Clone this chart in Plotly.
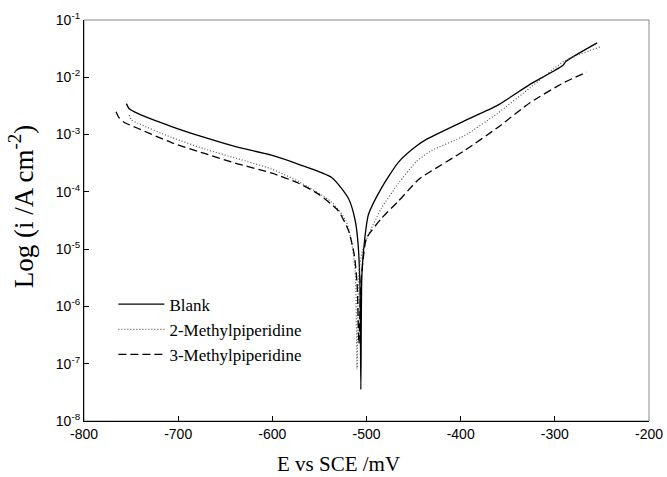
import plotly.graph_objects as go

# ---- data ----
blank_E = [-755, -752, -743, -707, -672, -637, -601, -572, -537, -519, -512, -509, -507,
           -506, -505, -503, -498, -484, -466, -447, -436, -396, -361, -326, -292, -288, -255]
blank_logi = [-2.46, -2.55, -2.63, -2.86, -3.05, -3.22, -3.36, -3.52, -3.75, -4.12, -4.50, -4.90, -5.60,
              -7.45, -5.50, -5.00, -4.40, -3.93, -3.48, -3.20, -3.08, -2.76, -2.49, -2.12, -1.80, -1.72, -1.40]

m2_E = [-752, -750, -743, -707, -672, -637, -601, -572, -537, -522, -516, -512,
        -510, -508, -504, -496, -484, -466, -447, -431, -396, -361, -326, -290, -252]
m2_logi = [-2.66, -2.74, -2.80, -3.05, -3.25, -3.42, -3.60, -3.82, -4.18, -4.50, -4.86, -5.40,
           -7.10, -5.40, -5.00, -4.68, -4.28, -3.85, -3.47, -3.28, -3.02, -2.63, -2.18, -1.72, -1.47]

m3_E = [-766, -763, -758, -743, -707, -672, -637, -601, -572, -551, -530, -519, -513, -510,
        -508, -506, -503, -500, -484, -466, -447, -442, -396, -361, -326, -290, -266]
m3_logi = [-2.60, -2.70, -2.78, -2.89, -3.14, -3.33, -3.51, -3.67, -3.85, -4.04, -4.33, -4.68, -5.10, -5.60,
           -6.65, -5.60, -5.10, -4.81, -4.46, -4.16, -3.82, -3.75, -3.28, -2.88, -2.44, -2.09, -1.91]

series_names = ["Blank", "2-Methylpiperidine", "3-Methylpiperidine"]

x_ticks = [-800, -700, -600, -500, -400, -300, -200]
x_ticktext = ["-800", "-700", "-600", "-500", "-400", "-300", "-200"]
y_exps = [-8, -7, -6, -5, -4, -3, -2, -1]

x_title = "E vs SCE /mV"
y_title = "Log (i /A cm<sup>-2</sup>)"

# ---- figure ----
fig = go.Figure()
styles = [
    dict(color="black", width=1.3, dash="solid"),
    dict(color="#555555", width=1.2, dash="1px,2px"),
    dict(color="black", width=1.3, dash="8px,4px"),
]
for k, (E, lg) in enumerate([(blank_E, blank_logi), (m2_E, m2_logi), (m3_E, m3_logi)]):
    fig.add_trace(go.Scatter(
        x=E, y=[10 ** v for v in lg], mode="lines", name=series_names[k],
        line=dict(**styles[k], shape="spline", smoothing=0.6),
        legendgroup=series_names[k],
    ))

fig.update_layout(
    width=667, height=477,
    margin=dict(l=84, r=4, t=20, b=56),
    paper_bgcolor="white", plot_bgcolor="white",
    showlegend=True,
    legend=dict(x=0.052, y=0.335, xanchor="left", yanchor="top", itemwidth=46,
                font=dict(family="Liberation Serif", size=17, color="black"),
                bgcolor="rgba(0,0,0,0)", tracegroupgap=0),
    xaxis=dict(range=[-800, -200], tickvals=x_ticks, ticktext=x_ticktext,
               ticks="inside", ticklen=5, ticklabeloverflow="allow",
               tickcolor="black", showline=True, linecolor="black", linewidth=1.2,
               showgrid=False, zeroline=False,
               tickfont=dict(family="Liberation Sans", size=14, color="black")),
    yaxis=dict(type="log", range=[-8, -1], tickvals=[10 ** e for e in y_exps],
               ticktext=["10<sup>%d</sup>" % e for e in y_exps],
               ticks="inside", ticklen=5, tickcolor="black", ticklabeloverflow="allow",
               showline=True, linecolor="black", linewidth=1.2,
               showgrid=False, zeroline=False,
               tickfont=dict(family="Liberation Sans", size=14, color="black")),
    shapes=[dict(type="rect", xref="paper", yref="paper", x0=0, y0=0, x1=1, y1=1,
                 line=dict(color="#888888", width=1), layer="below")],
    annotations=[
        dict(text=x_title, xref="paper", yref="paper", x=0.45, y=-0.106,
             xanchor="center", yanchor="middle", showarrow=False,
             font=dict(family="Liberation Serif", size=21, color="black")),
        dict(text=y_title, xref="paper", yref="paper", x=-0.11, y=0.535,
             xanchor="center", yanchor="middle", showarrow=False, textangle=-90,
             font=dict(family="Liberation Serif", size=27, color="black")),
    ],
)

fig.write_html(
    "out.html",
    config={"displayModeBar": False},
    post_script="document.body.style.margin='0';document.body.style.overflow='hidden';"
                "document.documentElement.style.overflow='hidden';",
)
